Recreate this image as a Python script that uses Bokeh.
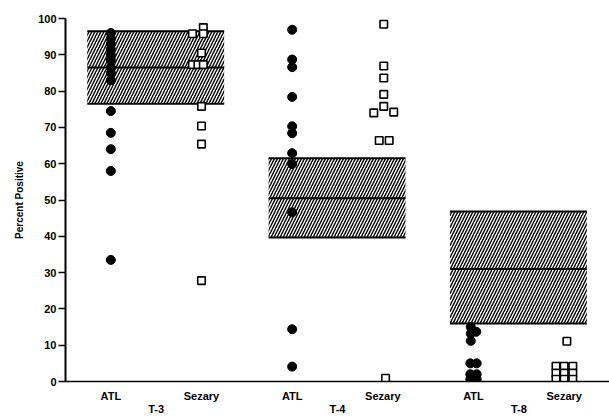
from bokeh.plotting import figure
from bokeh.models import Range1d, LinearAxis, FixedTicker
from bokeh.embed import file_html
from bokeh.resources import INLINE

# ---- data ----
groups = ["T-3", "T-4", "T-8"]
subgroups = ["ATL", "Sezary"]

# normal range boxes: (low, mean, high) per group
box_low = [76.5, 39.7, 16.0]
box_mean = [86.5, 50.5, 31.0]
box_high = [96.5, 61.5, 46.8]

atl_t3 = [96.0, 94.5, 93.0, 91.5, 90.0, 88.5, 86.5, 85.0, 83.0, 74.5, 68.5, 64.0, 58.0, 33.5]
atl_t3_jit = [0] * 14
sez_t3 = [97.5, 95.8, 95.8, 90.5, 87.3, 87.3, 87.3, 75.8, 70.4, 65.4, 27.8]
sez_t3_jit = [0.02, -0.10, 0.02, 0, -0.10, -0.04, 0.02, 0, 0, 0, 0]

atl_t4 = [96.9, 88.7, 86.6, 78.4, 70.3, 68.4, 62.9, 59.9, 46.6, 14.4, 4.1]
atl_t4_jit = [0] * 11
sez_t4 = [98.4, 86.9, 83.6, 79.1, 75.8, 74.0, 74.2, 66.4, 66.4, 0.9]
sez_t4_jit = [0.01, 0.01, 0.01, 0.01, 0.01, -0.10, 0.12, -0.04, 0.07, 0.03]

atl_t8 = [15.0, 13.2, 11.2, 13.7, 5.0, 5.0, 2.0, 2.0, 0.6, 0.6]
atl_t8_jit = [-0.03, -0.03, -0.03, 0.03, -0.035, 0.035, -0.035, 0.035, -0.035, 0.035]
sez_t8 = [11.1, 4.2, 4.2, 4.2, 2.3, 2.3, 2.3, 0.6, 0.6, 0.6]
sez_t8_jit = [0.03, -0.09, 0, 0.095, -0.09, 0, 0.095, -0.09, 0, 0.095]

ytick_vals = list(range(0, 101, 10))

FONT = "Liberation Sans"

p = figure(width=609, height=418, output_backend="svg", toolbar_location=None,
           x_range=Range1d(-0.5, 5.5), y_range=Range1d(0, 100),
           min_border_left=65, min_border_right=0, min_border_top=18, min_border_bottom=37,
           x_axis_location=None, y_axis_location=None)
p.grid.visible = False
p.outline_line_color = None
p.background_fill_color = "white"
p.border_fill_color = "white"

# boxes
gx = [0, 2, 4]
left = [g - 0.26 for g in gx]
right = [g + 1.25 for g in gx]
p.quad(left=left, right=right, bottom=box_low, top=box_high,
       fill_color="white", line_alpha=0,
       hatch_pattern="/", hatch_color="black", hatch_scale=6, hatch_weight=1.4)
for arr in (box_low, box_mean, box_high):
    p.segment(x0=left, x1=right, y0=arr, y1=arr, line_color="black", line_width=2)

# points
def pos(base, jit):
    return [base + j for j in jit]

atl_x = pos(0, atl_t3_jit) + pos(2, atl_t4_jit) + pos(4, atl_t8_jit)
atl_y = atl_t3 + atl_t4 + atl_t8
sez_x = pos(1, sez_t3_jit) + pos(3, sez_t4_jit) + pos(5, sez_t8_jit)
sez_y = sez_t3 + sez_t4 + sez_t8

p.scatter(x=atl_x, y=atl_y, marker="circle", size=9, fill_color="black", line_color="black")
p.scatter(x=sez_x, y=sez_y, marker="square", size=7.5, fill_color="white",
          line_color="black", line_width=1.6)

# y axis
yax = LinearAxis(ticker=FixedTicker(ticks=ytick_vals), axis_label="Percent Positive")
yax.axis_line_width = 2
yax.axis_line_color = "black"
yax.major_tick_line_width = 1.5
yax.major_tick_line_color = "black"
yax.major_tick_out = 7
yax.major_tick_in = 0
yax.minor_tick_line_color = None
yax.major_label_text_font = FONT
yax.major_label_text_font_style = "bold"
yax.major_label_text_font_size = "11px"
yax.major_label_text_color = "black"
yax.major_label_standoff = 2
yax.axis_label_text_font = FONT
yax.axis_label_text_font_style = "bold"
yax.axis_label_text_font_size = "10px"
yax.axis_label_text_color = "black"
yax.axis_label_standoff = 10
p.add_layout(yax, "left")

# x axis: subgroup labels
sub_ticks = [0, 1, 2, 3, 4, 5]
xax = LinearAxis(ticker=FixedTicker(ticks=sub_ticks),
                 major_label_overrides={t: subgroups[t % 2] for t in sub_ticks})
xax.axis_line_width = 1.5
xax.axis_line_color = "black"
xax.major_tick_line_color = None
xax.major_tick_out = 0
xax.major_tick_in = 0
xax.minor_tick_line_color = None
xax.major_label_text_font = FONT
xax.major_label_text_font_style = "bold"
xax.major_label_text_font_size = "11px"
xax.major_label_text_color = "black"
xax.major_label_standoff = 8
p.add_layout(xax, "below")

# group labels as a second row
grp_ticks = [0.5, 2.5, 4.5]
xax2 = LinearAxis(ticker=FixedTicker(ticks=grp_ticks),
                  major_label_overrides={t: g for t, g in zip(grp_ticks, groups)})
xax2.axis_line_color = None
xax2.major_tick_line_color = None
xax2.major_tick_out = 0
xax2.major_tick_in = 0
xax2.minor_tick_line_color = None
xax2.major_label_text_font = FONT
xax2.major_label_text_font_style = "bold"
xax2.major_label_text_font_size = "11px"
xax2.major_label_text_color = "black"
xax2.major_label_standoff = -2
p.add_layout(xax2, "below")

open("out.html", "w").write(file_html(p, INLINE))
